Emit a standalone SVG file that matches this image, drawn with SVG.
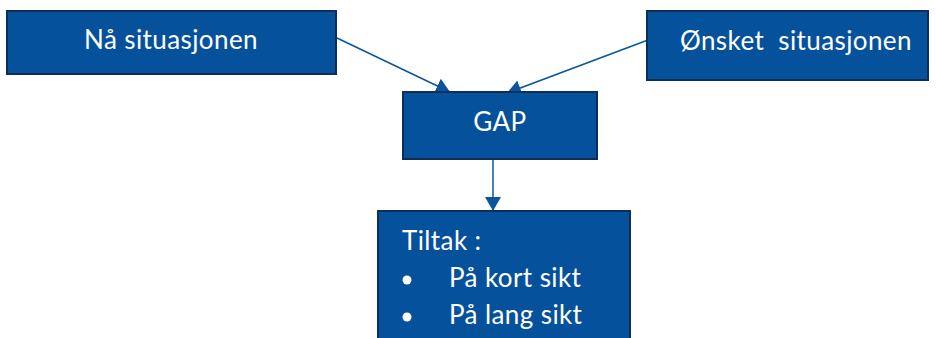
<svg xmlns="http://www.w3.org/2000/svg" width="936" height="338" viewBox="0 0 936 338">
<style>
.box{fill:#06519c;stroke:#0e2f55;stroke-width:2}
.t{font-family:Lato,"Open Sans","Liberation Sans",sans-serif;font-size:26px;letter-spacing:0.4px;fill:#ffffff}
.c{stroke:#0a55a0;stroke-width:1.5;fill:none}
</style>
<defs>
<marker id="ah2" viewBox="0 0 14 16" refX="14" refY="8" markerWidth="14" markerHeight="16" markerUnits="userSpaceOnUse" orient="auto">
<path d="M0,0 L14,8 L0,16 Z" fill="#0a55a0"/>
</marker>
</defs>
<g id="connectors">
<line class="c" x1="337" y1="38" x2="450" y2="92" marker-end="url(#ah2)"/>
<line class="c" x1="648" y1="40" x2="507" y2="93" marker-end="url(#ah2)"/>
<line class="c" x1="493" y1="159" x2="493" y2="211" marker-end="url(#ah2)"/>
</g>
<g id="naa">
<rect class="box" x="7" y="11" width="329" height="63"/>
<text class="t" x="171" y="49" text-anchor="middle">Nå situasjonen</text>
</g>
<g id="onsket">
<rect class="box" x="647" y="11" width="281" height="69"/>
<text class="t" x="680" y="50" xml:space="preserve">Ønsket  situasjonen</text>
</g>
<g id="gap">
<rect class="box" x="403" y="92" width="194" height="67"/>
<text class="t" x="500" y="131" text-anchor="middle">GAP</text>
</g>
<g id="tiltak">
<rect class="box" x="378" y="211" width="252" height="140"/>
<text class="t" x="402" y="250">Tiltak :</text>
<circle cx="407" cy="280" r="4.5" fill="#ffffff"/>
<text class="t" x="449" y="287">På kort sikt</text>
<circle cx="407" cy="317" r="4.5" fill="#ffffff"/>
<text class="t" x="449" y="324">På lang sikt</text>
</g>
</svg>
